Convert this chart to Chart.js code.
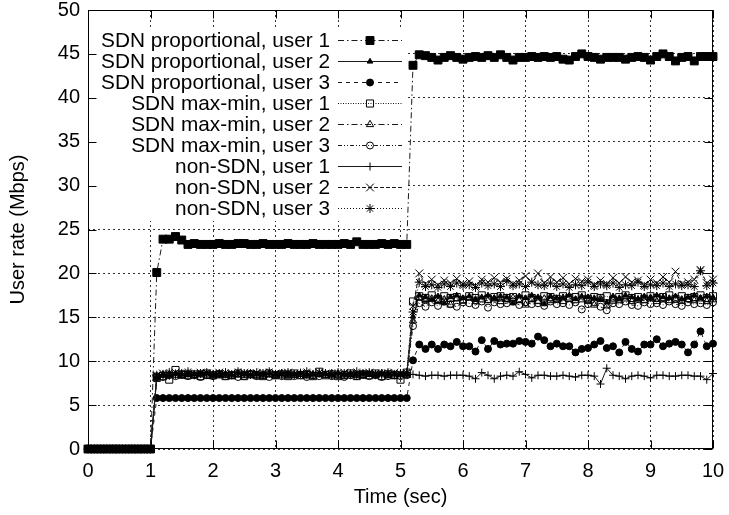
<!DOCTYPE html>
<html>
<head>
<meta charset="utf-8">
<script src="https://cdn.jsdelivr.net/npm/chart.js@4/dist/chart.umd.min.js"></script>
<style>
  html, body { margin: 0; padding: 0; background: #fff; }
  #wrap { width: 729px; height: 515px; }
</style>
</head>
<body>
<div id="wrap"><canvas id="rateChart" width="729" height="515"></canvas></div>
<script>
/* ── User rate vs time, SDN / non-SDN ── */
const FONT = '"Liberation Sans", Arial, Helvetica, sans-serif';

// sample times (sec)
const times = [
  0, 0.1, 0.2, 0.3, 0.4, 0.5, 0.6, 0.7, 0.8, 0.9,
  1, 1.1, 1.2, 1.3, 1.4, 1.5, 1.6, 1.7, 1.8, 1.9,
  2, 2.1, 2.2, 2.3, 2.4, 2.5, 2.6, 2.7, 2.8, 2.9,
  3, 3.1, 3.2, 3.3, 3.4, 3.5, 3.6, 3.7, 3.8, 3.9,
  4, 4.1, 4.2, 4.3, 4.4, 4.5, 4.6, 4.7, 4.8, 4.9,
  5, 5.1, 5.2, 5.3, 5.4, 5.5, 5.6, 5.7, 5.8, 5.9,
  6, 6.1, 6.2, 6.3, 6.4, 6.5, 6.6, 6.7, 6.8, 6.9,
  7, 7.1, 7.2, 7.3, 7.4, 7.5, 7.6, 7.7, 7.8, 7.9,
  8, 8.1, 8.2, 8.3, 8.4, 8.5, 8.6, 8.7, 8.8, 8.9,
  9, 9.1, 9.2, 9.3, 9.4, 9.5, 9.6, 9.7, 9.8, 9.9,
  10
];

const xTicks = [0, 1, 2, 3, 4, 5, 6, 7, 8, 9, 10];
const yTicks = [0, 5, 10, 15, 20, 25, 30, 35, 40, 45, 50];

const seriesNames = [
  'SDN proportional, user 1',
  'SDN proportional, user 2',
  'SDN proportional, user 3',
  'SDN max-min, user 1',
  'SDN max-min, user 2',
  'SDN max-min, user 3',
  'non-SDN, user 1',
  'non-SDN, user 2',
  'non-SDN, user 3',
];

// rows: t=0..1.0 | t=1.1..5.1 | t=5.2..10.0
const propUser1 = [
  0, 0, 0, 0, 0, 0, 0, 0, 0, 0, 0,
  20.1, 23.9, 23.9, 24.2, 23.8, 23.3, 23.4, 23.3, 23.3, 23.3,
  23.4, 23.3, 23.3, 23.4, 23.4, 23.3, 23.3, 23.4, 23.3, 23.3,
  23.3, 23.4, 23.3, 23.3, 23.3, 23.4, 23.3, 23.3, 23.3, 23.3,
  23.4, 23.3, 23.6, 23.3, 23.3, 23.3, 23.4, 23.3, 23.4, 23.3,
  23.3,
  43.7, 44.9, 44.8, 44.6, 44.3, 44.6, 44.8, 44.6, 44.4, 44.6,
  44.7, 44.6, 44.8, 44.6, 44.9, 44.6, 44.3, 44.6, 44.6, 44.7,
  44.6, 44.7, 44.6, 44.7, 44.4, 44.3, 44.7, 45.0, 44.7, 44.6,
  44.4, 44.6, 44.6, 44.6, 44.4, 44.6, 44.7, 44.6, 44.3, 44.7,
  45.0, 44.7, 44.2, 44.6, 44.7, 44.2, 44.7, 44.7, 44.7
];

const propUser2 = [
  0, 0, 0, 0, 0, 0, 0, 0, 0, 0, 0,
  8.0, 8.4, 8.3, 8.6, 8.5, 8.4, 8.5, 8.4, 8.6, 8.4,
  8.5, 8.4, 8.4, 8.6, 8.5, 8.4, 8.5, 8.4, 8.6, 8.4,
  8.5, 8.4, 8.5, 8.6, 8.4, 8.5, 8.4, 8.5, 8.4, 8.6,
  8.4, 8.5, 8.4, 8.6, 8.5, 8.4, 8.5, 8.4, 8.5, 8.4,
  8.5,
  15.1, 17.5, 17.3, 17.0, 17.4, 16.6, 17.3, 17.5, 17.2, 17.4,
  17.1, 17.3, 17.5, 17.2, 17.4, 17.3, 16.6, 17.4, 17.2, 17.5,
  17.3, 16.5, 17.4, 17.2, 17.3, 17.5, 17.1, 17.4, 17.3, 17.2,
  17.0, 16.7, 17.4, 17.2, 17.5, 17.3, 17.1, 17.4, 17.2, 17.5,
  17.3, 17.2, 17.4, 17.1, 17.3, 17.5, 17.2, 17.4, 17.3
];

const propUser3 = [
  0, 0, 0, 0, 0, 0, 0, 0, 0, 0, 0,
  5.8, 5.8, 5.8, 5.8, 5.8, 5.8, 5.8, 5.8, 5.8, 5.8,
  5.8, 5.8, 5.8, 5.8, 5.8, 5.8, 5.8, 5.8, 5.8, 5.8,
  5.8, 5.8, 5.8, 5.8, 5.8, 5.8, 5.8, 5.8, 5.8, 5.8,
  5.8, 5.8, 5.8, 5.8, 5.8, 5.8, 5.8, 5.8, 5.8, 5.8,
  5.8,
  10.1, 11.9, 11.4, 11.9, 11.4, 11.9, 11.7, 12.2, 11.7, 11.7,
  11.1, 12.4, 11.4, 12.3, 11.9, 12.0, 12.0, 12.3, 12.2, 12.0,
  12.8, 12.4, 11.7, 12.0, 11.7, 11.7, 11.0, 11.4, 11.5, 11.9,
  12.3, 11.5, 11.7, 11.0, 12.2, 11.4, 11.1, 11.9, 11.9, 12.5,
  11.7, 12.0, 12.2, 11.9, 11.0, 11.9, 13.4, 11.7, 12.0
];

const maxminUser1 = [
  0, 0, 0, 0, 0, 0, 0, 0, 0, 0, 0,
  8.1, 8.3, 7.9, 9.0, 8.5, 8.4, 8.5, 8.3, 8.6, 8.4,
  8.5, 8.3, 8.4, 8.6, 8.3, 8.5, 8.4, 8.3, 8.6, 8.4,
  8.5, 8.3, 8.6, 8.4, 8.5, 8.3, 8.8, 8.4, 8.5, 8.3,
  8.4, 8.6, 8.3, 8.5, 8.4, 8.6, 8.3, 8.5, 8.4, 7.9,
  8.7,
  16.8, 17.4, 17.2, 17.5, 17.1, 17.4, 17.2, 17.3, 17.0, 17.4,
  17.2, 17.5, 17.1, 17.3, 17.4, 17.2, 17.3, 17.1, 17.5, 17.2,
  17.0, 17.4, 17.3, 17.1, 17.4, 17.2, 17.3, 17.5, 17.1, 17.3,
  17.2, 17.4, 17.0, 17.3, 17.5, 17.2, 17.3, 17.1, 17.4, 17.2,
  17.3, 17.5, 17.1, 17.4, 17.2, 17.3, 17.5, 17.2, 17.4
];

const maxminUser2 = [
  0, 0, 0, 0, 0, 0, 0, 0, 0, 0, 0,
  8.2, 8.4, 8.5, 8.4, 8.3, 8.5, 8.4, 8.6, 8.3, 8.4,
  8.5, 8.4, 8.3, 8.5, 8.4, 8.6, 8.4, 8.3, 8.5, 8.4,
  8.6, 8.3, 8.4, 8.5, 8.4, 8.3, 8.5, 8.4, 8.6, 8.4,
  8.3, 8.5, 8.4, 8.3, 8.5, 8.4, 8.6, 8.4, 8.3, 8.5,
  8.4,
  14.6, 17.2, 16.9, 17.1, 16.8, 17.0, 16.4, 17.1, 16.9, 17.2,
  16.8, 17.0, 16.9, 17.1, 16.8, 17.0, 17.2, 16.9, 16.4, 17.0,
  16.8, 17.1, 16.9, 17.0, 16.8, 17.2, 16.9, 17.0, 16.8, 16.4,
  17.1, 16.3, 17.0, 16.9, 17.1, 16.8, 17.0, 16.9, 17.2, 16.8,
  17.0, 16.9, 17.1, 16.8, 17.0, 16.9, 17.1, 16.8, 17.0
];

const maxminUser3 = [
  0, 0, 0, 0, 0, 0, 0, 0, 0, 0, 0,
  8.3, 8.2, 8.4, 8.3, 8.5, 8.3, 8.4, 8.2, 8.4, 8.3,
  8.5, 8.3, 8.4, 8.2, 8.3, 8.5, 8.3, 8.4, 8.2, 8.4,
  8.3, 8.5, 8.3, 8.4, 8.2, 8.4, 8.3, 8.5, 8.3, 8.4,
  8.2, 8.4, 8.3, 8.5, 8.3, 8.4, 8.2, 8.3, 8.4, 8.3,
  8.4,
  14.0, 16.6, 16.2, 16.7, 16.3, 16.8, 16.5, 16.2, 16.7, 16.6,
  16.4, 16.8, 16.1, 16.7, 16.5, 16.6, 16.8, 16.4, 16.7, 16.5,
  16.6, 16.3, 16.8, 16.5, 16.6, 16.4, 16.7, 15.9, 16.5, 16.7,
  16.2, 15.8, 16.6, 16.5, 16.8, 16.4, 16.3, 16.7, 16.5, 16.6,
  16.4, 16.8, 16.5, 16.3, 16.7, 16.5, 16.6, 16.4, 16.7
];

const nonSdnUser1 = [
  0, 0, 0, 0, 0, 0, 0, 0, 0, 0, 0,
  8.2, 8.5, 8.4, 8.6, 8.5, 8.6, 8.4, 8.6, 8.5, 8.4,
  8.6, 8.5, 8.4, 8.6, 8.5, 8.6, 8.4, 8.5, 8.6, 8.5,
  8.4, 8.6, 8.5, 8.7, 8.4, 8.5, 8.6, 8.5, 8.4, 8.6,
  8.5, 8.6, 8.4, 8.5, 8.6, 8.5, 8.4, 8.6, 8.5, 8.4,
  8.5,
  8.5, 8.4, 8.3, 8.4, 8.4, 8.3, 8.4, 8.4, 8.4, 8.3,
  8.0, 8.7, 8.4, 8.0, 8.3, 8.4, 8.3, 8.8, 8.5, 8.1,
  8.4, 8.4, 8.3, 8.3, 8.4, 8.3, 8.2, 8.4, 8.4, 8.3,
  7.4, 9.2, 8.4, 8.3, 8.0, 8.3, 8.4, 8.3, 8.1, 8.4,
  8.4, 8.3, 8.3, 8.4, 8.4, 8.3, 8.3, 7.9, 8.6
];

const nonSdnUser2 = [
  0, 0, 0, 0, 0, 0, 0, 0, 0, 0, 0,
  8.3, 8.6, 8.5, 8.7, 8.4, 8.6, 8.5, 8.7, 8.6, 8.4,
  8.7, 8.5, 8.6, 8.4, 8.7, 8.5, 8.6, 8.7, 8.4, 8.6,
  8.5, 8.7, 8.6, 8.4, 8.6, 8.5, 8.7, 8.6, 8.5, 8.4,
  8.7, 8.5, 8.6, 8.4, 8.7, 8.6, 8.5, 8.6, 8.7, 8.5,
  8.6,
  16.3, 20.0, 18.8, 19.3, 18.7, 19.2, 18.9, 19.4, 18.8, 19.1,
  18.6, 19.3, 19.0, 19.5, 19.0, 19.4, 18.8, 19.2, 19.7, 19.0,
  20.0, 18.9, 19.6, 19.0, 19.5, 18.8, 19.4, 19.1, 19.3, 18.7,
  19.2, 18.8, 19.5, 18.9, 19.6, 19.0, 19.2, 18.7, 19.3, 18.9,
  19.6, 19.0, 20.2, 18.8, 19.0, 19.3, 20.4, 18.9, 19.3
];

const nonSdnUser3 = [
  0, 0, 0, 0, 0, 0, 0, 0, 0, 0, 0,
  8.4, 8.5, 8.7, 8.5, 8.6, 8.8, 8.5, 8.6, 8.7, 8.5,
  8.6, 8.7, 8.5, 8.8, 8.6, 8.5, 8.7, 8.6, 8.8, 8.5,
  8.6, 8.7, 8.5, 8.6, 8.8, 8.5, 8.7, 8.6, 8.5, 8.7,
  8.6, 8.5, 8.8, 8.6, 8.7, 8.5, 8.6, 8.7, 8.5, 8.6,
  8.7,
  15.6, 19.0, 18.5, 18.7, 18.4, 18.8, 18.5, 18.9, 18.6, 18.7,
  18.4, 18.9, 18.6, 18.8, 18.5, 19.1, 18.6, 18.8, 18.5, 19.0,
  18.7, 18.6, 18.9, 18.5, 18.8, 18.4, 18.7, 18.6, 19.0, 18.5,
  18.8, 18.6, 18.9, 18.4, 18.7, 18.6, 19.0, 18.5, 18.7, 18.6,
  18.9, 18.5, 18.8, 18.6, 18.7, 18.5, 20.3, 18.6, 18.9
];

const seriesValues = [
  propUser1, propUser2, propUser3,
  maxminUser1, maxminUser2, maxminUser3,
  nonSdnUser1, nonSdnUser2, nonSdnUser3,
];

// gnuplot-like line types / point types
const seriesStyles = [
  { dash: [6, 3, 1.5, 3],       shape: 'rect',     r: 5.6, filled: true  },
  { dash: [],                   shape: 'triangle', r: 3.2, filled: true  },
  { dash: [4, 4],               shape: 'circle',   r: 3.5, filled: true  },
  { dash: [1, 1.5],             shape: 'rect',     r: 5,   filled: false },
  { dash: [6, 3, 1.5, 3],       shape: 'triangle', r: 4.2, filled: false },
  { dash: [4, 2, 1, 2, 1, 2],   shape: 'circle',   r: 3.5, filled: false },
  { dash: [],                   shape: 'cross',    r: 4,   filled: false },
  { dash: [4, 2],               shape: 'crossRot', r: 5.5, filled: false },
  { dash: [1, 2],               shape: 'star',     r: 4.5, filled: false },
];

/* ── Key + border with inward ticks (gnuplot look) ── */
const gnuplotFrame = {
  id: 'gnuplotFrame',
  afterDatasetsDraw(chart) {
    const { ctx, chartArea: a, scales: { x, y } } = chart;
    ctx.save();

    // opaque key
    ctx.fillStyle = '#fff';
    ctx.fillRect(89, 27, 317, 194);
    ctx.font = '20.8px ' + FONT;
    ctx.textAlign = 'right';
    ctx.textBaseline = 'alphabetic';
    chart.data.datasets.forEach((ds, i) => {
      const base = 47 + i * 21;
      const my = base - 7;
      ctx.fillStyle = '#000';
      ctx.fillText(ds.label, 330, base);
      ctx.strokeStyle = ds.borderColor;
      ctx.lineWidth = 1;
      ctx.setLineDash(ds.borderDash);
      ctx.beginPath();
      ctx.moveTo(338, my + 0.5);
      ctx.lineTo(402, my + 0.5);
      ctx.stroke();
      ctx.setLineDash([]);
      ctx.fillStyle = ds.pointBackgroundColor;
      ctx.strokeStyle = ds.pointBorderColor;
      ctx.lineWidth = ds.pointBorderWidth;
      Chart.helpers.drawPoint(ctx, {
        pointStyle: ds.pointStyle, radius: ds.pointRadius,
        borderWidth: ds.pointBorderWidth, rotation: 0,
      }, 370, my + 0.5);
    });

    // border
    const L = Math.round(a.left) + 0.5, R = Math.round(a.right) - 0.5;
    const T = Math.round(a.top) + 0.5, B = Math.round(a.bottom) - 0.5;
    ctx.setLineDash([]);
    ctx.strokeStyle = '#000';
    ctx.lineWidth = 1;
    ctx.strokeRect(L, T, R - L, B - T);

    // inward ticks, mirrored
    const tick = 8;
    ctx.beginPath();
    xTicks.forEach(v => {
      const px = Math.round(x.getPixelForValue(v)) + 0.5;
      ctx.moveTo(px, B); ctx.lineTo(px, B - tick);
      ctx.moveTo(px, T); ctx.lineTo(px, T + tick);
    });
    yTicks.forEach(v => {
      const py = Math.round(y.getPixelForValue(v)) + 0.5;
      ctx.moveTo(L, py); ctx.lineTo(L + tick, py);
      ctx.moveTo(R, py); ctx.lineTo(R - tick, py);
    });
    ctx.stroke();
    ctx.restore();
  },
};

/* ── Build datasets ── */
function buildDatasets() {
  return seriesNames.map((name, i) => {
    const st = seriesStyles[i];
    return {
      label: name,
      data: times.map((t, k) => ({ x: t, y: seriesValues[i][k] })),
      borderColor: '#1a1a1a',
      borderWidth: 1,
      borderDash: st.dash,
      pointStyle: st.shape,
      pointRadius: st.r,
      pointHoverRadius: st.r,
      pointBorderWidth: 1,
      pointBorderColor: '#000',
      pointBackgroundColor: st.filled ? '#000' : 'rgba(0,0,0,0)',
      tension: 0,
      fill: false,
      clip: false,
      order: seriesNames.length - i,
    };
  });
}

const axisFont = { family: FONT, size: 20 };

new Chart(document.getElementById('rateChart'), {
  type: 'line',
  data: { datasets: buildDatasets() },
  plugins: [gnuplotFrame],
  options: {
    responsive: false,
    animation: false,
    layout: { padding: { top: 10, right: 16, left: 0, bottom: 0 } },
    plugins: { legend: { display: false }, tooltip: { enabled: false } },
    scales: {
      x: {
        type: 'linear', min: 0, max: 10,
        afterBuildTicks: s => { s.ticks = xTicks.map(v => ({ value: v })); },
        afterFit: s => { s.height = 66; s.paddingLeft = 0; s.paddingRight = 0; },
        grid: { color: 'rgba(0,0,0,0.8)', lineWidth: 1, drawTicks: false },
        border: { display: false, dash: [2, 3] },
        ticks: { color: '#000', font: axisFont, padding: 10, maxRotation: 0, autoSkip: false },
        title: { display: true, text: 'Time (sec)', color: '#000', font: axisFont, padding: { top: 0, bottom: 6 } },
      },
      y: {
        type: 'linear', min: 0, max: 50,
        afterBuildTicks: s => { s.ticks = yTicks.map(v => ({ value: v })); },
        afterFit: s => { s.width = 88; s.paddingTop = 0; s.paddingBottom = 0; },
        grid: { color: 'rgba(0,0,0,0.8)', lineWidth: 1, drawTicks: false },
        border: { display: false, dash: [2, 3] },
        ticks: { color: '#000', font: axisFont, padding: 8 },
        title: { display: true, text: 'User rate (Mbps)', color: '#000', font: axisFont, padding: { top: 6, bottom: 0 } },
      },
    },
  },
});
</script>
</body>
</html>
